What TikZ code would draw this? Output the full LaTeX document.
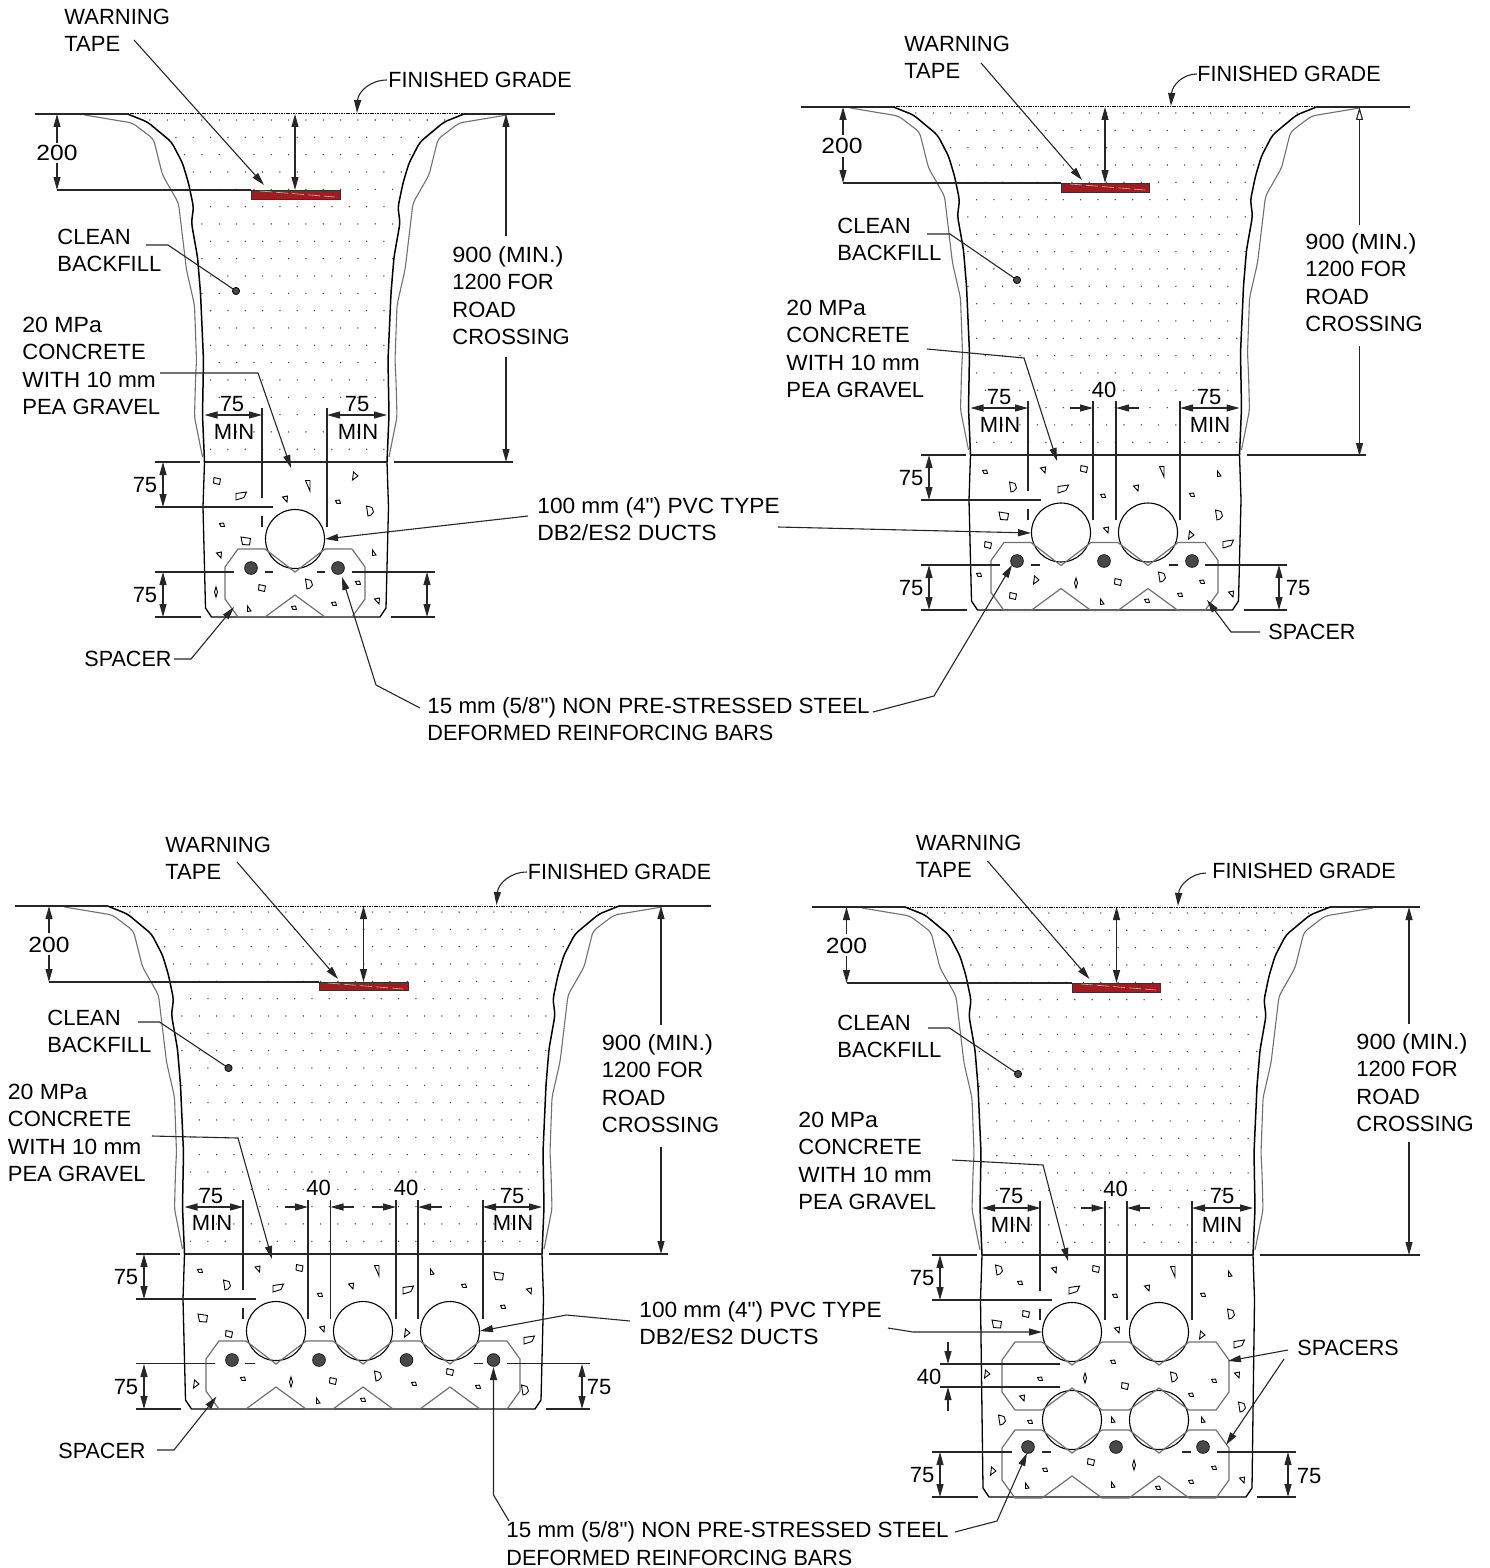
\documentclass[tikz,border=0pt]{standalone}
\usepackage{fontspec}
\usepackage{graphicx}
\newfontfamily\lblfont{Liberation Sans}
\usetikzlibrary{arrows.meta}
\definecolor{tapered}{HTML}{A01C20}
\definecolor{grayl}{HTML}{707070}
\definecolor{rebar}{HTML}{484848}
\tikzset{
  txt/.style={inner sep=0pt,anchor=north west,align=left,font=\lblfont\fontsize{11pt}{13.65pt}\selectfont},
  dtxt/.style={inner sep=0pt,anchor=center,text height=8pt,text depth=0pt,font=\lblfont\fontsize{11pt}{13.65pt}\selectfont},
  ln/.style={line width=.55pt,draw=black!85},
  wallb/.style={line width=.75pt,draw=black,rounded corners=2pt},
  wallg/.style={line width=.55pt,draw=grayl,rounded corners=2pt},
  sp/.style={line width=.6pt,draw=grayl,line join=miter},
  arr/.style={ln,-{Triangle[length=6.5pt,width=3.5pt]}},
  dbl/.style={ln,{Triangle[length=6.5pt,width=3.5pt]}-{Triangle[length=6.5pt,width=3.5pt]}},
  agg/.style={line width=.45pt,draw=black},
}
% --- aggregate shapes
\newcommand{\aS}[2]{\draw[agg,shift={(#1,#2)}] (-2.5,-1.5)--(1.5,-2)--(2.5,1.5)--(-1,1.5)--cycle;}
\newcommand{\aQ}[2]{\draw[agg,shift={(#1,#2)}] (-3,-3.5)--(3.5,-2)--(2.5,3.5)--(-3.5,2)--cycle;}
\newcommand{\aQL}[2]{\draw[agg,shift={(#1,#2)}] (-5,-4)--(4.5,-2.5)--(3.5,4)--(-3.5,3.5)--cycle;}
\newcommand{\aL}[2]{\draw[agg,shift={(#1,#2)}] (-5,-2.5)--(5.5,-4)--(3,1.5)--(-5,4)--cycle;}
\newcommand{\aT}[2]{\draw[agg,shift={(#1,#2)}] (-2.5,-2)--(2.5,-3)--(2,3)--cycle;}
\newcommand{\aTh}[2]{\draw[agg,shift={(#1,#2)}] (-2.5,-4.5)--(2,-4.5)--(2,6)--cycle;}
\newcommand{\aD}[2]{\draw[agg,shift={(#1,#2)}] (-3.5,-5)--(2,-3.5)--(3.5,1)--(1,4)--(-2,5)--cycle;}
\newcommand{\aDm}[2]{\draw[agg,shift={(#1,#2)}] (0,-5)--(1.5,0)--(0,5)--(-1.5,0)--cycle;}
\newcommand{\aTr}[2]{\draw[agg,shift={(#1,#2)}] (-1.5,-4)--(3,0)--(-2.5,4)--cycle;}
\newcommand{\aSt}[2]{\draw[agg,shift={(#1,#2)}] (-1.5,-3)--(2,2)--(-1.5,2.5)--cycle;}
% --- text helpers
\newcommand{\hs}[2]{\scalebox{#1}[1]{#2}}
\newcommand{\lab}[4]{\node[txt] (#1) at (#2,{#3-11}) {\rule{0pt}{9pt}#4};}
\newcommand{\dtx}[4]{\node[dtxt] (#1) at (#2,#3) {#4};}
\newcommand{\tfh}{\hs{1.12}{200}}
\newcommand{\concr}{\hs{1.05}{20 MPa}\\CONCRETE\\\hs{1.03}{WITH 10 mm}\\PEA GRAVEL}
\newcommand{\nine}{\hs{1.07}{900 (MIN.)}\\1200 FOR\\ROAD\\CROSSING}
\newcommand{\pvc}{\hs{1.03}{100 mm (4") PVC TYPE}\\\hs{1.04}{DB2/ES2 DUCTS}}
\newcommand{\rebartxt}{\hs{1.018}{15 mm (5/8") NON PRE-STRESSED STEEL}\\\hs{.983}{DEFORMED REINFORCING BARS}}
\newcommand{\grd}{\hs{.98}{FINISHED GRADE}}
% --- parts
\newcommand{\ductc}[2]{\draw[line width=.55pt,draw=black,fill=white] (#1,#2) circle[radius=14.75pt];}
\newcommand{\rbar}[2]{\draw[line width=.3pt,draw=black,fill=rebar] (#1,#2) circle[radius=3.2pt];}
\newcommand{\spc}[4]{%
  \draw[sp] (#1-30,#4+10)--(#1-57,#4+10)--(#1-70,#4+28)--(#1-70,#4+60)--(#1-57,#4+78)--(#1-30,#4+78);
  \foreach \cc in {#3}{
    \draw[sp] (\cc-30,#4+10)--(\cc,#4+33)--(\cc+30,#4+10)--(\cc+57,#4+10);
    \draw[sp] (\cc-30,#4+78)--(\cc,#4+56)--(\cc+30,#4+78)--(\cc+57,#4+78);
  }
  \draw[sp] (#2+57,#4+10)--(#2+70,#4+28)--(#2+70,#4+60)--(#2+57,#4+78);
}
\newcommand{\drop}[1]{\draw[ln] (#1,\yT-54)--(#1,\yT+65);}
\newcommand{\dropd}[1]{\draw[ln] (#1,\yT-54)--(#1,\yT+36) (#1,\yT+54)--(#1,\yT+65);}
\newcommand{\tren}[9]{%
  \def\xL{#1}\def\xR{#2}\def\yG{#3}\def\yB{#4}\def\tlL{#7}
  \pgfmathsetmacro\yT{#3+348}
  \begin{scope}
    \clip (\xL-77,\yG)--(\xL-57,\yG+8)--(\xL-33,\yG+28)--(\xL-22,\yG+49)--(\xL-16,\yG+69)--(\xL-11,\yG+93)--(\xL-13,\yG+109)--(\xL-7,\yG+143)--(\xL-4,\yG+179)--(\xL-1,\yG+246)--(\xL-2,\yG+301)--(\xL,\yG+348)
      --(\xR,\yG+348)--(\xR+2,\yG+301)--(\xR+1,\yG+246)--(\xR+4,\yG+179)--(\xR+7,\yG+143)--(\xR+13,\yG+109)--(\xR+11,\yG+93)--(\xR+16,\yG+69)--(\xR+22,\yG+49)--(\xR+33,\yG+28)--(\xR+57,\yG+8)--(\xR+77,\yG)--cycle;
    \foreach \r in {0,...,19}{\foreach \c in {0,...,31}{
      \fill[black!75] ({\xL-89.2+17.33*\c+8.67*mod(\r,2)},{\yG+6+17.33*\r}) circle[radius=.38pt];
    }}
  \end{scope}
  \draw[wallb] (\xL-77,\yG)--(\xL-57,\yG+8)--(\xL-33,\yG+28)--(\xL-22,\yG+49)--(\xL-16,\yG+69)--(\xL-11,\yG+93)--(\xL-13,\yG+109)--(\xL-7,\yG+143)--(\xL-4,\yG+179)--(\xL-1,\yG+246)--(\xL-2,\yG+301)--(\xL,\yG+348);
  \draw[wallb] (\xR+77,\yG)--(\xR+57,\yG+8)--(\xR+33,\yG+28)--(\xR+22,\yG+49)--(\xR+16,\yG+69)--(\xR+11,\yG+93)--(\xR+13,\yG+109)--(\xR+7,\yG+143)--(\xR+4,\yG+179)--(\xR+1,\yG+246)--(\xR+2,\yG+301)--(\xR,\yG+348);
  \draw[wallg] (\xL-120,\yG+1)--(\xL-72,\yG+9)--(\xL-51,\yG+25)--(\xL-42,\yG+61)--(\xL-26,\yG+89)--(\xL-18,\yG+156)--(\xL-10,\yG+191)--(\xL-8,\yG+246)--(\xL-9,\yG+266)--(\xL-10,\yG+303)--(\xL-2,\yG+343);
  \draw[wallg] (\xR+120,\yG+1)--(\xR+72,\yG+9)--(\xR+51,\yG+25)--(\xR+42,\yG+61)--(\xR+26,\yG+89)--(\xR+18,\yG+156)--(\xR+10,\yG+191)--(\xR+8,\yG+246)--(\xR+9,\yG+266)--(\xR+10,\yG+303)--(\xR+2,\yG+343);
  % grade
  \draw[ln] (#5,\yG)--(\xL-77,\yG) (\xR+77,\yG)--(#6,\yG);
  \draw[line width=.5pt,black,dash pattern=on .8pt off .4pt] (\xL-77,\yG)--(\xR+77,\yG);
  % concrete envelope
  \draw[line width=.65pt,draw=black] (\xL,\yT)--(\xL-1.5,\yT+45)--(\xL+1,\yB-9)--(\xL+7,\yB)--(\xR-7,\yB)--(\xR-1,\yB-9)--(\xR+1.5,\yT+45)--(\xR,\yT);
  \draw[ln] (\tlL,\yT)--(\xL-5,\yT) (\xL,\yT)--(\xR,\yT) (\xR+7,\yT)--(#8,\yT);
  \draw[ln] (\tlL,\yB)--(\xL-4,\yB) (\xR+4,\yB)--(#9,\yB);
  \draw[dbl] (\tlL+8,\yT)--(\tlL+8,\yT+45);
  \draw[dbl] (\tlL+8,\yB-45)--(\tlL+8,\yB);
  \draw[dbl] (#9-8,\yB-45)--(#9-8,\yB);
  \dtx{}{\tlL-10}{\yT+22}{75}
  \dtx{}{\tlL-10}{\yB-23}{75}
}
\begin{document}
\begin{tikzpicture}[x=.5pt,y=-.5pt]
\useasboundingbox (0,0) rectangle (1489,1568);
% ================= PANEL 1 =================
\tren{204.5}{387}{114}{617}{35}{555}{155}{513}{435}
\foreach \x/\y in {217/481,262/588}{\aQ{\x}{\y}}
\aQL{246}{541}\aL{241}{496}
\foreach \x/\y in {285/499,219/555,377/601}{\aT{\x}{\y}}
\aTh{308}{485}
\foreach \x/\y in {370/511,309/584}{\aD{\x}{\y}}
\aTr{355}{476}
\foreach \x/\y in {338/502,222/525,358/583,334/604,294/608}{\aS{\x}{\y}}
\foreach \x/\y in {374/553,249/609}{\aSt{\x}{\y}}
\aDm{216}{592}
\ductc{295}{539}
\spc{295}{295}{295}{539}
\rbar{251}{568}\rbar{338}{568}
\draw[ln] (155,507)--(273,507);
\draw[ln] (155,572)--(234,572) (265,572)--(273,572) (317,572)--(325,572) (352,572)--(435,572);
\dropd{262}\drop{327}
\draw[dbl] (204.5,415)--(262,415);
\draw[dbl] (327,415)--(387,415);
\dtx{p1a}{232}{403}{75}\dtx{p1b}{234}{431}{MIN}\dtx{p1c}{357}{403}{75}\dtx{p1d}{358}{431}{MIN}
\draw[fill=tapered,draw=black!80,line width=.4pt] (251,190) rectangle (340,199);
\draw[white!65!tapered,line width=.3pt,dash pattern=on 6pt off 2pt] (260,191)--(335,197);
\draw[ln] (57,190)--(251,190);
\draw[arr] (57,143)--(57,114);
\draw[arr] (57,163)--(57,190);
\dtx{p1e}{57}{153}{\tfh}
\draw[dbl] (295,114)--(295,190);
\draw[arr] (506,236)--(506,114);
\draw[arr] (506,357)--(506,462);
\lab{p1w}{64}{17}{WARNING\\TAPE}
\draw[arr] (134,40)--(264,185);
\lab{p1g}{388}{80}{\grd}
\draw[arr] (387,80) .. controls (370,80) and (358,92) .. (357,113);
\lab{p1c2}{57}{237}{CLEAN\\BACKFILL}
\draw[ln] (146,245)--(168,245)--(236,291);
\draw[line width=.4pt,fill=rebar] (236,291) circle[radius=1.8pt];
\lab{p1m}{22}{325}{\concr}
\draw[arr] (160,373)--(258,373)--(291,468);
\lab{p1n}{452}{255}{\nine}
\lab{p1s}{84}{659}{\hs{.98}{SPACER}}
\draw[arr] (174,659)--(191,659)--(234,607);
\lab{ducts}{537}{506}{\pvc}
\draw[arr] (528,516)--(325,539);
\lab{rebars}{427}{706}{\rebartxt}
\draw[arr] (420,708)--(376,685)--(342,577);
% ================= PANEL 2 =================
\tren{970.5}{1239.5}{107}{610}{801}{1410}{921}{1366}{1287}
\foreach \x/\y in {985/472,1103/496,1192/495,979/575,1202/582,1180/595,1147/601}{\aS{\x}{\y}}
\foreach \x/\y in {1013/487,1219/515,1162/577}{\aD{\x}{\y}}
\foreach \x/\y in {1043/470,1136/488,1106/530,1231/594}{\aT{\x}{\y}}
\foreach \x/\y in {1084/469,988/545,1118/582,1013/596}{\aQ{\x}{\y}}
\foreach \x/\y in {1063/489,1228/544}{\aL{\x}{\y}}
\aTh{1162}{471}
\foreach \x/\y in {1219/474,1102/602}{\aSt{\x}{\y}}
\aQL{1004}{516}
\foreach \x/\y in {1191/535,1036/580}{\aTr{\x}{\y}}
\aDm{1076}{583}
\ductc{1061}{532.5}\ductc{1148}{532.5}
\spc{1061}{1148}{1061,1148}{532.5}
\rbar{1017}{561}\rbar{1104}{561}\rbar{1192}{561}
\draw[ln] (921,500)--(1041,500);
\draw[ln] (921,565)--(1000,565) (1031,565)--(1040,565) (1169,565)--(1178,565) (1205,565)--(1287,565);
\dropd{1028}\drop{1093}\drop{1116}\drop{1180}
\draw[dbl] (970.5,408)--(1028,408);
\draw[dbl] (1180,408)--(1239.5,408);
\draw[arr] (1070,408)--(1093,408);
\draw[arr] (1139,408)--(1116,408);
\dtx{p2a}{999}{396}{75}\dtx{p2b}{1000}{424}{MIN}\dtx{p2c}{1209}{396}{75}\dtx{p2d}{1210}{424}{MIN}\dtx{p2f}{1104}{389}{40}
\dtx{p2g}{1298}{587}{75}
\draw[fill=tapered,draw=black!80,line width=.4pt] (1061,183) rectangle (1149,192);
\draw[white!65!tapered,line width=.3pt,dash pattern=on 6pt off 2pt] (1070,184)--(1145,190);
\draw[ln] (843,183)--(1061,183);
\draw[arr] (843,135)--(843,107);
\draw[arr] (843,157)--(843,183);
\dtx{p2e}{842}{146}{\tfh}
\draw[dbl] (1105,107)--(1105,183);
\draw[ln,-{Triangle[open,fill=white,length=6.5pt,width=3.5pt]}] (1359.5,225)--(1359.5,107);
\draw[arr] (1359.5,346)--(1359.5,456);
\lab{p2w}{904}{44}{WARNING\\TAPE}
\draw[arr] (981,63)--(1082,180);
\lab{p2g2}{1197}{74}{\grd}
\draw[arr] (1197,74) .. controls (1182,74) and (1172,86) .. (1171,106);
\lab{p2c2}{837}{226}{CLEAN\\BACKFILL}
\draw[ln] (927,234)--(950,234)--(1017,280);
\draw[line width=.4pt,fill=rebar] (1017,280) circle[radius=1.8pt];
\lab{p2m}{786}{308}{\concr}
\draw[arr] (927,349)--(1024,358)--(1057,461);
\lab{p2n}{1305}{242}{\nine}
\lab{p2s}{1268}{632}{\hs{.98}{SPACER}}
\draw[arr] (1260,632)--(1231,632)--(1207,600);
\draw[arr] (778,527)--(1031,533);
\draw[arr] (873,712)--(934,696)--(1012,565);
% ================= PANEL 3 =================
\tren{184.5}{542}{906}{1409}{15}{711}{136}{668}{590}
\foreach \x/\y in {200/1271,320/1295,464/1286,503/1307,243/1379,414/1384,478/1387,363/1400}{\aS{\x}{\y}}
\foreach \x/\y in {227/1285,378/1376,525/1390}{\aD{\x}{\y}}
\foreach \x/\y in {257.5/1269,351/1286,529/1291,322/1329}{\aT{\x}{\y}}
\foreach \x/\y in {299.5/1268,229/1334,333/1381,450/1372}{\aQ{\x}{\y}}
\foreach \x/\y in {499/1276,203/1318}{\aQL{\x}{\y}}
\foreach \x/\y in {278/1288,408/1290,529/1340}{\aL{\x}{\y}}
\aTh{377}{1270}
\foreach \x/\y in {432/1272,318/1401}{\aSt{\x}{\y}}
\foreach \x/\y in {407/1333,196/1384}{\aTr{\x}{\y}}
\aDm{291}{1382}
\ductc{276}{1331}\ductc{363}{1331}\ductc{450}{1331}
\spc{276}{450}{276,363,450}{1331}
\rbar{232}{1360}\rbar{319}{1360}\rbar{406.5}{1360}\rbar{493.5}{1360}
\draw[ln] (136,1299)--(255.5,1299);
\draw[ln] (136,1363.5)--(215,1363.5) (245,1363.5)--(254.5,1363.5) (473.5,1363.5)--(483,1363.5) (507,1363.5)--(590,1363.5);
\dropd{243}\drop{308}\drop{330.5}\drop{396}\drop{418}\drop{483}
\draw[dbl] (184.5,1207)--(243,1207);
\draw[dbl] (483,1207)--(542,1207);
\draw[arr] (285,1207)--(308,1207);
\draw[arr] (354,1207)--(330.5,1207);
\draw[arr] (372,1207)--(396,1207);
\draw[arr] (441.5,1207)--(418,1207);
\dtx{p3a}{211}{1195}{75}\dtx{p3b}{212}{1222}{MIN}\dtx{p3c}{512}{1195}{75}\dtx{p3d}{513}{1222}{MIN}
\dtx{p3f}{318.5}{1187}{40}\dtx{p3h}{406}{1187}{40}
\dtx{p3g}{599}{1386}{75}
\draw[fill=tapered,draw=black!80,line width=.4pt] (319,982) rectangle (408,990.5);
\draw[white!65!tapered,line width=.3pt,dash pattern=on 6pt off 2pt] (328,983)--(403,989);
\draw[ln] (49,982)--(319,982);
\draw[arr] (49,933)--(49,906);
\draw[arr] (49,955)--(49,982);
\dtx{p3e}{49}{944}{\tfh}
\draw[dbl] (363.5,906)--(363.5,982);
\draw[arr] (661,1025)--(661,906);
\draw[arr] (661,1147)--(661,1254);
\lab{p3w}{165}{845}{WARNING\\TAPE}
\draw[arr] (237,862)--(338,979);
\lab{p3g2}{527.5}{872}{\grd}
\draw[arr] (527,872) .. controls (510,872) and (498,884) .. (496.5,905);
\lab{p3c2}{47}{1018}{CLEAN\\BACKFILL}
\draw[ln] (138,1022)--(159.5,1022)--(228.5,1068);
\draw[line width=.4pt,fill=rebar] (228.5,1068) circle[radius=1.8pt];
\lab{p3m}{7.5}{1092}{\concr}
\draw[arr] (152,1136)--(238,1138)--(272,1259);
\lab{p3n}{601.5}{1043}{\nine}
\lab{p3s}{58}{1451}{\hs{.98}{SPACER}}
\draw[arr] (157,1450)--(174,1450)--(216.5,1396.5);
\lab{p3du}{639}{1310}{\pvc}
\draw[arr] (630,1321)--(566.5,1315)--(480,1331);
\lab{p3rb}{506}{1530.5}{\rebartxt}
\draw[arr] (509,1521)--(493.5,1495)--(493.5,1367);
% ================= PANEL 4 =================
\tren{982}{1253}{907}{1497}{812}{1420}{932}{1420}{1296}
\foreach \x/\y in {999/1270,1231/1314,1174/1377,1242/1407,1002/1420}{\aD{\x}{\y}}
\foreach \x/\y in {1020/1283,1115/1296,1203/1295,1113/1362,1040/1379,1214/1381,1191/1395,1030/1422,1045/1470,1214/1468,1158/1488,1191/1482}{\aS{\x}{\y}}
\foreach \x/\y in {1054/1270,1147/1288,1117/1330,1237/1375,1022/1398,1242/1480}{\aT{\x}{\y}}
\foreach \x/\y in {1096/1269,1026/1314,1125/1386,1091/1462}{\aQ{\x}{\y}}
\aTh{1173}{1271}
\foreach \x/\y in {1230/1274,1113/1420,1203/1420,1027/1486,1113/1485}{\aSt{\x}{\y}}
\foreach \x/\y in {1074/1290,1239/1344}{\aL{\x}{\y}}
\aQL{997}{1324}
\foreach \x/\y in {1202/1335,987/1374,993/1471}{\aTr{\x}{\y}}
\foreach \x/\y in {1085/1378,1134/1465}{\aDm{\x}{\y}}
\ductc{1072}{1332}\ductc{1159}{1332}\ductc{1072}{1420}\ductc{1159}{1420}
\spc{1072}{1159}{1072,1159}{1332}
\spc{1072}{1159}{1072,1159}{1420}
\rbar{1028}{1447}\rbar{1116}{1447}\rbar{1203}{1447}
\draw[ln] (932,1300)--(1052,1300);
\draw[ln] (932,1452)--(1012,1452) (1042,1452)--(1051,1452) (1182,1452)--(1191,1452) (1217,1452)--(1296,1452);
\dropd{1040}\drop{1105}\drop{1127}\drop{1192}
\draw[dbl] (982,1208)--(1040.5,1208);
\draw[dbl] (1192,1208)--(1253,1208);
\draw[arr] (1081,1208)--(1104.5,1208);
\draw[arr] (1150,1208)--(1127,1208);
\dtx{p4a}{1011}{1195}{75}\dtx{p4b}{1011}{1224}{MIN}\dtx{p4c}{1222}{1195}{75}\dtx{p4d}{1222}{1224}{MIN}
\dtx{p4f}{1115.5}{1188}{40}
\dtx{p4g}{1309}{1475}{75}
\draw[ln] (940,1364)--(1060,1364) (940,1387)--(1060,1387);
\draw[arr] (948,1342)--(948,1364);
\draw[arr] (948,1411)--(948,1387);
\dtx{p4h}{929}{1376}{40}
\draw[fill=tapered,draw=black!80,line width=.4pt] (1072,983) rectangle (1160.5,992);
\draw[white!65!tapered,line width=.3pt,dash pattern=on 6pt off 2pt] (1081,984)--(1156,990);
\draw[ln] (846.5,983)--(1072,983);
\draw[arr] (846.5,934)--(846.5,907);
\draw[arr] (846.5,956)--(846.5,983);
\dtx{p4e}{846.5}{945}{\tfh}
\draw[dbl] (1116.5,907)--(1116.5,983);
\draw[arr] (1409,1024)--(1409,907);
\draw[arr] (1409,1142)--(1409,1255);
\lab{p4w}{915.5}{843}{WARNING\\TAPE}
\draw[arr] (987.5,861)--(1089.5,979);
\lab{p4g2}{1212}{871}{\grd}
\draw[arr] (1206,873) .. controls (1192,873) and (1179,885) .. (1178,906);
\lab{p4c2}{837}{1023}{CLEAN\\BACKFILL}
\draw[ln] (928,1028)--(949.5,1028)--(1018,1074);
\draw[line width=.4pt,fill=rebar] (1018,1074) circle[radius=1.8pt];
\lab{p4m}{798}{1120}{\concr}
\draw[arr] (952,1160)--(1043,1165)--(1068,1261);
\lab{p4n}{1356}{1042}{\nine}
\lab{p4s}{1297}{1348}{\hs{.98}{SPACERS}}
\draw[arr] (1288,1350)--(1228,1361);
\draw[arr] (1284,1359)--(1226,1445);
\draw[arr] (888,1328)--(913,1332)--(1042,1332);
\draw[arr] (955,1532)--(997,1521)--(1027,1453);
\end{tikzpicture}
\end{document}
